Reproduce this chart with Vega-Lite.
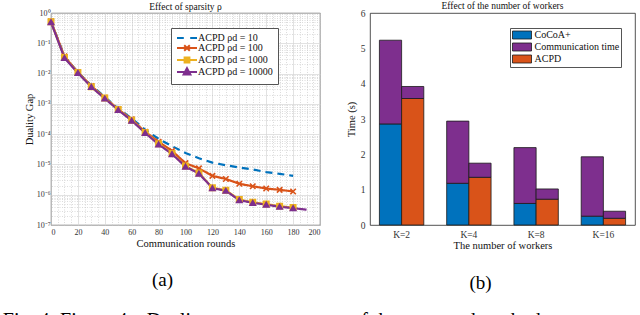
{
  "$schema": "https://vega.github.io/schema/vega-lite/v6.json",
  "padding": {"left": 2, "top": 0, "right": 0, "bottom": 0},
  "background": "white",
  "config": {
    "font": "Liberation Serif",
    "view": {"stroke": "#262626", "strokeWidth": 0.8},
    "axis": {"labelFont": "Liberation Serif", "titleFont": "Liberation Serif", "titleFontWeight": "normal", "labelColor": "#333", "titleColor": "#111", "domain": false, "ticks": false},
    "title": {"font": "Liberation Serif", "fontWeight": "normal", "color": "#111"},
    "legend": {"labelFont": "Liberation Serif", "labelColor": "#111"}
  },
  "datasets": {
    "conv": [
      {"series": "ACPD ρd = 10", "round": 0, "gap": 0.53},
      {"series": "ACPD ρd = 10", "round": 10, "gap": 0.037},
      {"series": "ACPD ρd = 10", "round": 20, "gap": 0.011},
      {"series": "ACPD ρd = 10", "round": 30, "gap": 0.004},
      {"series": "ACPD ρd = 10", "round": 40, "gap": 0.0017},
      {"series": "ACPD ρd = 10", "round": 50, "gap": 0.0007},
      {"series": "ACPD ρd = 10", "round": 60, "gap": 0.00033},
      {"series": "ACPD ρd = 10", "round": 70, "gap": 0.00014},
      {"series": "ACPD ρd = 10", "round": 80, "gap": 0.00007},
      {"series": "ACPD ρd = 10", "round": 90, "gap": 0.00004},
      {"series": "ACPD ρd = 10", "round": 100, "gap": 0.000024},
      {"series": "ACPD ρd = 10", "round": 110, "gap": 0.000016},
      {"series": "ACPD ρd = 10", "round": 120, "gap": 0.0000115},
      {"series": "ACPD ρd = 10", "round": 130, "gap": 0.0000094},
      {"series": "ACPD ρd = 10", "round": 140, "gap": 0.0000079},
      {"series": "ACPD ρd = 10", "round": 150, "gap": 0.0000068},
      {"series": "ACPD ρd = 10", "round": 160, "gap": 0.0000056},
      {"series": "ACPD ρd = 10", "round": 170, "gap": 0.0000049},
      {"series": "ACPD ρd = 10", "round": 180, "gap": 0.0000042},
      {"series": "ACPD ρd = 100", "round": 0, "gap": 0.53},
      {"series": "ACPD ρd = 100", "round": 10, "gap": 0.037},
      {"series": "ACPD ρd = 100", "round": 20, "gap": 0.011},
      {"series": "ACPD ρd = 100", "round": 30, "gap": 0.0039},
      {"series": "ACPD ρd = 100", "round": 40, "gap": 0.0016},
      {"series": "ACPD ρd = 100", "round": 50, "gap": 0.00066},
      {"series": "ACPD ρd = 100", "round": 60, "gap": 0.00031},
      {"series": "ACPD ρd = 100", "round": 70, "gap": 0.00012},
      {"series": "ACPD ρd = 100", "round": 80, "gap": 0.000056},
      {"series": "ACPD ρd = 100", "round": 90, "gap": 0.000028},
      {"series": "ACPD ρd = 100", "round": 100, "gap": 0.000011},
      {"series": "ACPD ρd = 100", "round": 110, "gap": 0.0000074},
      {"series": "ACPD ρd = 100", "round": 120, "gap": 0.0000042},
      {"series": "ACPD ρd = 100", "round": 130, "gap": 0.0000033},
      {"series": "ACPD ρd = 100", "round": 140, "gap": 0.0000023},
      {"series": "ACPD ρd = 100", "round": 150, "gap": 0.0000019},
      {"series": "ACPD ρd = 100", "round": 160, "gap": 0.0000016},
      {"series": "ACPD ρd = 100", "round": 170, "gap": 0.00000145},
      {"series": "ACPD ρd = 100", "round": 180, "gap": 0.00000128},
      {"series": "ACPD ρd = 1000", "round": 0, "gap": 0.51},
      {"series": "ACPD ρd = 1000", "round": 10, "gap": 0.034},
      {"series": "ACPD ρd = 1000", "round": 20, "gap": 0.0108},
      {"series": "ACPD ρd = 1000", "round": 30, "gap": 0.0037},
      {"series": "ACPD ρd = 1000", "round": 40, "gap": 0.00155},
      {"series": "ACPD ρd = 1000", "round": 50, "gap": 0.00065},
      {"series": "ACPD ρd = 1000", "round": 60, "gap": 0.00029},
      {"series": "ACPD ρd = 1000", "round": 70, "gap": 0.000114},
      {"series": "ACPD ρd = 1000", "round": 80, "gap": 0.000048},
      {"series": "ACPD ρd = 1000", "round": 90, "gap": 0.000023},
      {"series": "ACPD ρd = 1000", "round": 100, "gap": 0.0000088},
      {"series": "ACPD ρd = 1000", "round": 110, "gap": 0.0000052},
      {"series": "ACPD ρd = 1000", "round": 120, "gap": 0.0000017},
      {"series": "ACPD ρd = 1000", "round": 130, "gap": 0.0000014},
      {"series": "ACPD ρd = 1000", "round": 140, "gap": 0.00000069},
      {"series": "ACPD ρd = 1000", "round": 150, "gap": 0.00000056},
      {"series": "ACPD ρd = 1000", "round": 160, "gap": 0.00000049},
      {"series": "ACPD ρd = 1000", "round": 170, "gap": 0.00000042},
      {"series": "ACPD ρd = 1000", "round": 180, "gap": 0.000000375},
      {"series": "ACPD ρd = 10000", "round": 0, "gap": 0.5},
      {"series": "ACPD ρd = 10000", "round": 10, "gap": 0.033},
      {"series": "ACPD ρd = 10000", "round": 20, "gap": 0.0105},
      {"series": "ACPD ρd = 10000", "round": 30, "gap": 0.0036},
      {"series": "ACPD ρd = 10000", "round": 40, "gap": 0.0015},
      {"series": "ACPD ρd = 10000", "round": 50, "gap": 0.00063},
      {"series": "ACPD ρd = 10000", "round": 60, "gap": 0.00028},
      {"series": "ACPD ρd = 10000", "round": 70, "gap": 0.00011},
      {"series": "ACPD ρd = 10000", "round": 80, "gap": 0.000046},
      {"series": "ACPD ρd = 10000", "round": 90, "gap": 0.000022},
      {"series": "ACPD ρd = 10000", "round": 100, "gap": 0.0000085},
      {"series": "ACPD ρd = 10000", "round": 110, "gap": 0.000005},
      {"series": "ACPD ρd = 10000", "round": 120, "gap": 0.00000165},
      {"series": "ACPD ρd = 10000", "round": 130, "gap": 0.00000135},
      {"series": "ACPD ρd = 10000", "round": 140, "gap": 0.00000066},
      {"series": "ACPD ρd = 10000", "round": 150, "gap": 0.00000054},
      {"series": "ACPD ρd = 10000", "round": 160, "gap": 0.00000047},
      {"series": "ACPD ρd = 10000", "round": 170, "gap": 0.0000004},
      {"series": "ACPD ρd = 10000", "round": 180, "gap": 0.00000036},
      {"series": "ACPD ρd = 10000", "round": 190, "gap": 0.00000032}
    ],
    "bars": [
      {"K": "K=2", "method": "CoCoA+", "component": "CoCoA+", "time": 2.86},
      {"K": "K=2", "method": "CoCoA+", "component": "Communication time", "time": 2.37},
      {"K": "K=2", "method": "ACPD", "component": "ACPD", "time": 3.58},
      {"K": "K=2", "method": "ACPD", "component": "Communication time", "time": 0.34},
      {"K": "K=4", "method": "CoCoA+", "component": "CoCoA+", "time": 1.18},
      {"K": "K=4", "method": "CoCoA+", "component": "Communication time", "time": 1.76},
      {"K": "K=4", "method": "ACPD", "component": "ACPD", "time": 1.35},
      {"K": "K=4", "method": "ACPD", "component": "Communication time", "time": 0.4},
      {"K": "K=8", "method": "CoCoA+", "component": "CoCoA+", "time": 0.61},
      {"K": "K=8", "method": "CoCoA+", "component": "Communication time", "time": 1.58},
      {"K": "K=8", "method": "ACPD", "component": "ACPD", "time": 0.73},
      {"K": "K=8", "method": "ACPD", "component": "Communication time", "time": 0.29},
      {"K": "K=16", "method": "CoCoA+", "component": "CoCoA+", "time": 0.25},
      {"K": "K=16", "method": "CoCoA+", "component": "Communication time", "time": 1.68},
      {"K": "K=16", "method": "ACPD", "component": "ACPD", "time": 0.19},
      {"K": "K=16", "method": "ACPD", "component": "Communication time", "time": 0.2}
    ]
  },
  "title": {"text": "Fig. 4: Figure 4a: Duality gap convergence of the proposed method", "orient": "bottom", "anchor": "start", "fontSize": 20, "offset": 16, "dx": -21, "color": "#000"},
  "spacing": 24,
  "resolve": {"scale": {"color": "independent"}, "legend": {"color": "independent"}},
  "hconcat": [
    {
      "spacing": 18,
      "vconcat": [
        {
          "width": 269,
          "height": 212,
          "title": {"text": "Effect of sparsity ρ", "fontSize": 9.5, "offset": -2},
          "data": {"name": "conv"},
          "resolve": {"scale": {"x": "independent", "y": "independent"}, "axis": {"x": "independent", "y": "independent"}},
          "layer": [
            {
              "mark": {"type": "line", "strokeWidth": 2.2},
              "encoding": {
                "x": {"field": "round", "type": "quantitative", "scale": {"domain": [0, 200], "nice": false},
                      "axis": {"values": [0, 20, 40, 60, 80, 100, 120, 140, 160, 180, 200], "labelFontSize": 8, "labelPadding": 3, "title": "Communication rounds", "titleFontSize": 10.5, "titlePadding": 2, "grid": true, "gridColor": "#d6d6d6", "gridWidth": 0.7}},
                "y": {"field": "gap", "type": "quantitative", "scale": {"type": "log", "domain": [1e-7, 1], "nice": false},
                      "axis": {"values": [1e-7, 1e-6, 1e-5, 1e-4, 1e-3, 1e-2, 1e-1, 1], "labelExpr": "'10' + ['⁰','⁻¹','⁻²','⁻³','⁻⁴','⁻⁵','⁻⁶','⁻⁷'][-round(log(datum.value)/LN10)]", "labelFontSize": 8, "labelPadding": 1, "title": "Duality Gap", "titleFontSize": 10.5, "titlePadding": 2, "grid": true, "gridColor": "#d6d6d6", "gridWidth": 0.7}},
                "color": {"field": "series", "type": "nominal",
                          "scale": {"domain": ["ACPD ρd = 10", "ACPD ρd = 100", "ACPD ρd = 1000", "ACPD ρd = 10000"], "range": ["#0072BD", "#D95319", "#EDB120", "#7E2F8E"]},
                          "legend": {"title": null, "orient": "none", "legendX": 120, "legendY": 15, "fillColor": "white", "strokeColor": "#555", "padding": 5, "labelFontSize": 10, "symbolSize": 64, "symbolStrokeWidth": 2, "symbolOffset": 6, "labelOffset": 6, "rowPadding": -3.5,
                                     "encode": {"symbols": {"update": {
                                        "shape": {"signal": "datum.value === 'ACPD ρd = 10' ? 'M-2.5,0H-0.8M0.8,0H2.5' : datum.value === 'ACPD ρd = 100' ? 'M-2.5,0H2.5M-0.7,-0.7L0.7,0.7M-0.7,0.7L0.7,-0.7' : datum.value === 'ACPD ρd = 1000' ? 'M-2.5,0H2.5M-0.6,-0.6H0.6V0.6H-0.6Z' : 'M-2.5,0H2.5M0,-0.95L0.85,0.6H-0.85Z'"},
                                        "fill": {"signal": "datum.value === 'ACPD ρd = 10' ? '#0072BD' : datum.value === 'ACPD ρd = 100' ? '#D95319' : datum.value === 'ACPD ρd = 1000' ? '#EDB120' : '#7E2F8E'"}
                                     }}}}},
                "strokeDash": {"field": "series", "type": "nominal",
                               "scale": {"domain": ["ACPD ρd = 10", "ACPD ρd = 100", "ACPD ρd = 1000", "ACPD ρd = 10000"], "range": [[7, 5], [1, 0], [1, 0], [1, 0]]}, "legend": null}
              }
            },
            {
              "mark": {"type": "point", "opacity": 1, "strokeWidth": 1.6},
              "transform": [{"filter": "datum.series !== 'ACPD ρd = 10' && datum.round <= 180"}],
              "encoding": {
                "x": {"field": "round", "type": "quantitative", "scale": {"domain": [0, 200], "nice": false},
                      "axis": {"orient": "top", "values": [5, 10, 15, 25, 30, 35, 45, 50, 55, 65, 70, 75, 85, 90, 95, 105, 110, 115, 125, 130, 135, 145, 150, 155, 165, 170, 175, 185, 190, 195], "labels": false, "title": null, "grid": true, "gridDash": [1, 1.5], "gridColor": "#c4c4c4", "gridWidth": 0.6}},
                "y": {"field": "gap", "type": "quantitative", "scale": {"type": "log", "domain": [1e-7, 1], "nice": false},
                      "axis": {"orient": "right", "values": [2e-7, 3e-7, 4e-7, 5e-7, 6e-7, 7e-7, 8e-7, 9e-7, 2e-6, 3e-6, 4e-6, 5e-6, 6e-6, 7e-6, 8e-6, 9e-6, 2e-5, 3e-5, 4e-5, 5e-5, 6e-5, 7e-5, 8e-5, 9e-5, 2e-4, 3e-4, 4e-4, 5e-4, 6e-4, 7e-4, 8e-4, 9e-4, 2e-3, 3e-3, 4e-3, 5e-3, 6e-3, 7e-3, 8e-3, 9e-3, 2e-2, 3e-2, 4e-2, 5e-2, 6e-2, 7e-2, 8e-2, 9e-2, 2e-1, 3e-1, 4e-1, 5e-1, 6e-1, 7e-1, 8e-1, 9e-1], "labels": false, "title": null, "grid": true, "gridDash": [1, 1.5], "gridColor": "#c4c4c4", "gridWidth": 0.6}},
                "fill": {"field": "series", "type": "nominal", "scale": {"domain": ["ACPD ρd = 100", "ACPD ρd = 1000", "ACPD ρd = 10000"], "range": ["#D95319", "#EDB120", "#7E2F8E"]}, "legend": null},
                "stroke": {"field": "series", "type": "nominal", "scale": {"domain": ["ACPD ρd = 100", "ACPD ρd = 1000", "ACPD ρd = 10000"], "range": ["#D95319", "#EDB120", "#7E2F8E"]}, "legend": null},
                "shape": {"field": "series", "type": "nominal", "scale": {"domain": ["ACPD ρd = 100", "ACPD ρd = 1000", "ACPD ρd = 10000"], "range": ["M-1,-1L1,1M-1,1L1,-1", "square", "triangle-up"]}, "legend": null},
                "size": {"field": "series", "type": "nominal", "scale": {"domain": ["ACPD ρd = 100", "ACPD ρd = 1000", "ACPD ρd = 10000"], "range": [30, 28, 70]}, "legend": null}
              }
            }
          ]
        },
        {
          "width": 269,
          "height": 25,
          "view": {"stroke": null},
          "data": {"values": [{"label": "(a)"}]},
          "mark": {"type": "text", "fontSize": 19, "baseline": "middle", "color": "#000", "dx": -23},
          "encoding": {"text": {"field": "label", "type": "nominal"}}
        }
      ]
    },
    {
      "spacing": 18,
      "vconcat": [
        {
          "width": 265,
          "height": 212,
          "title": {"text": "Effect of the number of workers", "fontSize": 9.5, "offset": -2},
          "data": {"name": "bars"},
          "mark": {"type": "bar", "stroke": "#1a1a1a", "strokeWidth": 0.8},
          "encoding": {
            "x": {"field": "K", "type": "nominal", "sort": ["K=2", "K=4", "K=8", "K=16"], "scale": {"paddingInner": 0.34, "paddingOuter": 0.14},
                  "axis": {"labelAngle": 0, "labelFontSize": 9.5, "labelPadding": 4, "title": "The number of workers", "titleFontSize": 10.5, "titlePadding": 2}},
            "xOffset": {"field": "method", "type": "nominal", "sort": ["CoCoA+", "ACPD"], "scale": {"paddingInner": 0, "paddingOuter": 0}},
            "y": {"field": "time", "type": "quantitative", "stack": "zero", "scale": {"domain": [0, 6], "nice": false},
                  "axis": {"values": [0, 1, 2, 3, 4, 5, 6], "labelFontSize": 9.5, "labelPadding": 5, "title": "Time (s)", "titleFontSize": 10.5, "titlePadding": 4, "grid": false}},
            "color": {"field": "component", "type": "nominal",
                      "scale": {"domain": ["CoCoA+", "Communication time", "ACPD"], "range": ["#0072BD", "#7E2F8E", "#D95319"]},
                      "legend": {"title": null, "orient": "none", "legendX": 140, "legendY": 15, "fillColor": "white", "strokeColor": "#555", "padding": 1.5, "labelFontSize": 10, "symbolType": "M-1.9,-0.8H1.9V0.8H-1.9Z", "symbolSize": 100, "symbolStrokeColor": "#1a1a1a", "symbolStrokeWidth": 0.8, "symbolOpacity": 1, "symbolOffset": 5, "labelOffset": 7, "rowPadding": -3.5}},
            "order": {"field": "component", "type": "nominal", "sort": "ascending"}
          }
        },
        {
          "width": 265,
          "height": 25,
          "view": {"stroke": null},
          "data": {"values": [{"label": "(b)"}]},
          "mark": {"type": "text", "fontSize": 19, "baseline": "middle", "color": "#000", "dx": -22},
          "encoding": {"text": {"field": "label", "type": "nominal"}}
        }
      ]
    }
  ]
}
